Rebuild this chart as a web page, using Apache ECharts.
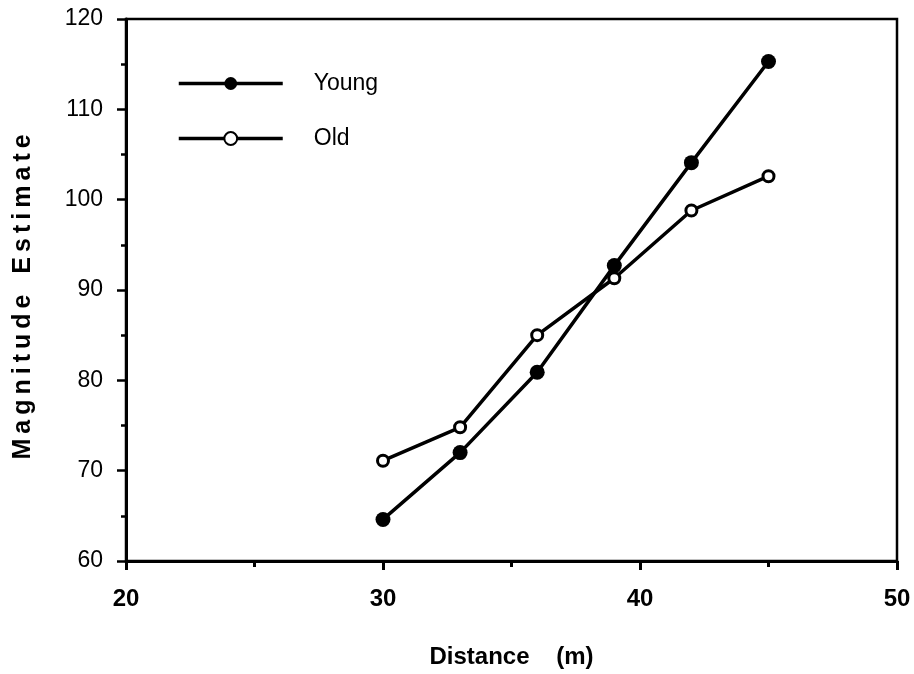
<!DOCTYPE html>
<html>
<head>
<meta charset="utf-8">
<script src="https://cdn.jsdelivr.net/npm/echarts@6/dist/echarts.min.js"></script>
<style>
  html, body { margin: 0; padding: 0; background: #fff; }
  #chart { width: 914px; height: 674px; }
</style>
</head>
<body>
<div id="chart"></div>
<script>
// distance in metres
let distance = [30, 33, 36, 39, 42, 45];
let young = [64.6, 72.0, 80.9, 92.7, 104.1, 115.3];
let old = [71.1, 74.8, 85.0, 91.3, 98.8, 102.6];

let chart = echarts.init(document.getElementById('chart'));

function pairs(xs, ys) {
  return xs.map((x, i) => [x, ys[i]]);
}

// spread letters a little, the y title in the scan is letter-spaced
function spaced(s) {
  return s.split('').join('\u2009');
}

let fnt = '"Liberation Sans", Arial, sans-serif';
let yTitle = spaced('Magnitude') + '   ' + spaced('Estimate') + '  ';

let option = {
  animation: false,
  backgroundColor: '#fff',
  grid: {
    left: 126, right: 17, top: 19, bottom: 111,
    show: true, borderColor: '#000', borderWidth: 2.5, backgroundColor: 'transparent'
  },
  legend: {
    left: 177, top: 72, padding: 0,
    orient: 'vertical',
    itemWidth: 104, itemHeight: 16, itemGap: 32,
    lineStyle: { width: 3.5, color: '#000' },
    textStyle: { fontFamily: fnt, fontSize: 23, lineHeight: 16, color: '#000', padding: [0, 0, 0, 26] },
    data: ['Young', 'Old']
  },
  xAxis: {
    type: 'value', min: 20, max: 50, interval: 10,
    name: 'Distance    (m)', nameLocation: 'middle', nameGap: 84,
    nameTextStyle: { fontFamily: fnt, fontSize: 24, fontWeight: 'bold', color: '#000' },
    axisLine: { lineStyle: { color: '#000', width: 3 } },
    axisTick: { inside: false, length: 9, lineStyle: { color: '#000', width: 3 } },
    minorTick: { show: true, splitNumber: 2, length: 6, lineStyle: { color: '#000', width: 3 } },
    splitLine: { show: false },
    axisLabel: { margin: 26, fontFamily: fnt, fontSize: 24, fontWeight: 'bold', color: '#000' }
  },
  yAxis: {
    type: 'value', min: 60, max: 120, interval: 10,
    name: yTitle, nameLocation: 'middle', nameGap: 90,
    nameTextStyle: { fontFamily: fnt, fontSize: 25, fontWeight: 'bold', color: '#000' },
    axisLine: { lineStyle: { color: '#000', width: 3 } },
    axisTick: { inside: false, length: 9, lineStyle: { color: '#000', width: 2.5 } },
    minorTick: { show: true, splitNumber: 2, length: 5, lineStyle: { color: '#000', width: 2.5 } },
    splitLine: { show: false },
    axisLabel: { margin: 23, fontFamily: fnt, fontSize: 23, color: '#000' }
  },
  series: [
    {
      name: 'Young', type: 'line',
      data: pairs(distance, young),
      symbol: 'circle', symbolSize: 15,
      lineStyle: { color: '#000', width: 3.5 },
      itemStyle: { color: '#000', borderColor: '#000', borderWidth: 0 },
      z: 3
    },
    {
      name: 'Old', type: 'line',
      data: pairs(distance, old),
      symbol: 'circle', symbolSize: 11,
      lineStyle: { color: '#000', width: 3.5 },
      itemStyle: { color: '#fff', borderColor: '#000', borderWidth: 3 },
      z: 2
    }
  ]
};

chart.setOption(option);
</script>
</body>
</html>
